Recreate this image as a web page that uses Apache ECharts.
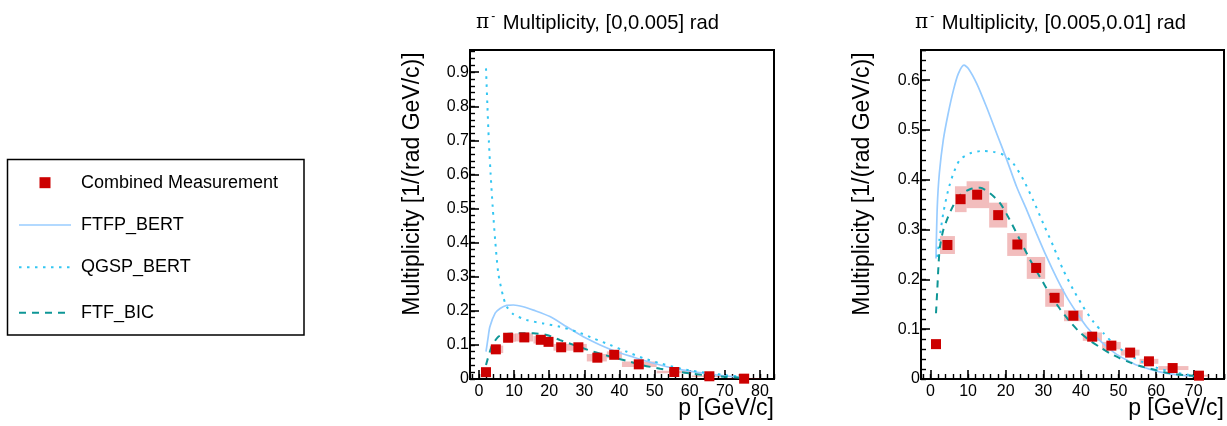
<!DOCTYPE html>
<html><head><meta charset="utf-8">
<script src="https://cdn.jsdelivr.net/npm/echarts@6/dist/echarts.min.js"></script>
<style>html,body{margin:0;padding:0;background:#fff}#c{width:1227px;height:426px}</style>
</head><body><div id="c"></div>
<script>
// ---------- data: left panel, [0,0.005] rad ----------
const L_dataP    = [2.0, 4.8, 8.3, 12.9, 17.6, 19.8, 23.4, 28.3, 33.7, 38.5, 45.5, 55.6, 65.6, 75.5];
const L_dataM    = [0.020, 0.087, 0.121, 0.122, 0.115, 0.109, 0.093, 0.093, 0.0625, 0.071, 0.043, 0.0205, 0.008, 0.001];
const L_binLow   = [1.0, 3.1, 6.8, 10.3, 15.5, 18.8, 21.2, 25.9, 30.7, 36.4, 40.7, 50.6, 60.6, 70.7];
const L_binHigh  = [3.0, 6.9, 10.4, 15.4, 18.8, 21.1, 25.9, 30.7, 36.4, 40.7, 50.6, 60.6, 70.7, 80.3];
const L_sysErr   = [0.002, 0.011, 0.012, 0.012, 0.011, 0.011, 0.010, 0.010, 0.011, 0.010, 0.008, 0.004, 0.002, 0.001];

const L_ftfpP = [2.0, 2.56, 3.1, 4.6, 6.0, 7.9, 9.8, 12.6, 15.5, 20.2, 25.0, 29.7, 34.5, 39.2, 44.0, 48.7, 53.5, 58.2, 63.0, 67.7, 72.5, 76.3];
const L_ftfpM = [0.080, 0.119, 0.153, 0.193, 0.207, 0.216, 0.217, 0.212, 0.202, 0.183, 0.153, 0.124, 0.100, 0.080, 0.064, 0.049, 0.036, 0.026, 0.0185, 0.0117, 0.0068, 0.0039];

const L_qgspP = [2.0, 2.4, 2.8, 3.3, 3.9, 4.6, 5.5, 6.9, 7.9, 9.8, 13.6, 18.3, 23.1, 27.8, 32.6, 37.3, 42.1, 46.8, 51.6, 56.3, 61.0, 65.8, 70.5, 75.3];
const L_qgspM = [0.911, 0.800, 0.700, 0.603, 0.505, 0.408, 0.310, 0.241, 0.212, 0.190, 0.173, 0.163, 0.153, 0.139, 0.119, 0.100, 0.080, 0.061, 0.046, 0.033, 0.0235, 0.0167, 0.0108, 0.0068];

const L_ftfbP = [2.0, 3.6, 5.5, 7.9, 11.7, 15.5, 19.3, 23.1, 27.8, 32.6, 37.3, 42.1, 46.8, 51.6, 56.3, 61.0, 65.8, 70.5, 74.3];
const L_ftfbM = [0.041, 0.095, 0.124, 0.132, 0.134, 0.134, 0.129, 0.114, 0.097, 0.080, 0.066, 0.053, 0.040, 0.030, 0.022, 0.015, 0.0095, 0.006, 0.004];

// ---------- data: right panel, [0.005,0.01] rad ----------
const R_dataP    = [1.46, 4.5, 8.0, 12.4, 18.0, 23.1, 28.1, 33.0, 38.0, 43.0, 48.1, 53.1, 58.1, 64.4, 71.4];
const R_dataM    = [0.070, 0.269, 0.361, 0.370, 0.329, 0.270, 0.223, 0.163, 0.127, 0.085, 0.067, 0.053, 0.0355, 0.022, 0.0067];
const R_binLow   = [0.8, 2.5, 6.5, 9.6, 15.6, 20.4, 25.6, 30.5, 35.5, 40.5, 45.6, 50.6, 55.6, 60.6, 68.6];
const R_binHigh  = [2.1, 6.5, 9.6, 15.6, 20.4, 25.6, 30.5, 35.5, 40.5, 45.6, 50.6, 55.6, 60.6, 68.6, 74.0];
const R_sysErr   = [0.002, 0.018, 0.026, 0.027, 0.025, 0.023, 0.022, 0.018, 0.011, 0.0085, 0.0075, 0.006, 0.005, 0.004, 0.002];

const R_ftfpP = [1.46, 1.8, 2.35, 3.4, 4.7, 6.1, 7.4, 8.9, 10.1, 12.3, 14.9, 17.6, 20.3, 22.9, 25.6, 28.2, 30.9, 33.6, 36.2, 38.9, 41.5, 44.2, 46.9, 49.5, 52.2, 54.8, 58.4, 62.8, 67.2, 70.8];
const R_ftfpM = [0.242, 0.346, 0.413, 0.480, 0.533, 0.580, 0.613, 0.630, 0.623, 0.593, 0.546, 0.493, 0.440, 0.386, 0.339, 0.292, 0.245, 0.202, 0.165, 0.133, 0.105, 0.083, 0.065, 0.0495, 0.038, 0.028, 0.0194, 0.0114, 0.0074, 0.0047];

const R_qgspP = [1.8, 2.35, 3.4, 4.7, 6.1, 7.8, 10.5, 14.0, 16.7, 19.4, 22.0, 24.7, 27.3, 30.0, 32.7, 35.3, 38.0, 40.6, 43.3, 46.0, 48.6, 51.3, 53.9, 56.6, 60.2, 64.6, 69.0, 70.8];
const R_qgspM = [0.245, 0.279, 0.333, 0.379, 0.413, 0.440, 0.453, 0.458, 0.456, 0.450, 0.433, 0.400, 0.359, 0.312, 0.266, 0.219, 0.179, 0.145, 0.115, 0.092, 0.0716, 0.056, 0.0435, 0.0335, 0.0227, 0.0134, 0.008, 0.006];

const R_ftfbP = [1.46, 1.8, 2.1, 2.5, 3.4, 4.7, 6.1, 7.8, 10.5, 13.2, 15.8, 18.5, 21.1, 23.8, 26.5, 29.1, 31.8, 34.4, 37.1, 39.8, 42.4, 45.1, 47.7, 50.4, 53.0, 55.7, 58.4, 62.8, 67.2, 70.8];
const R_ftfbM = [0.132, 0.179, 0.225, 0.265, 0.299, 0.326, 0.349, 0.369, 0.381, 0.384, 0.373, 0.353, 0.319, 0.279, 0.239, 0.205, 0.170, 0.141, 0.115, 0.093, 0.077, 0.0636, 0.0516, 0.0415, 0.0335, 0.026, 0.0207, 0.0127, 0.008, 0.006];

// ---------- text ----------
const titles = ['[0,0.005] rad', '[0.005,0.01] rad'];
const yTitle = 'Multiplicity [1/(rad GeV/c)]';
const xTitle = 'p [GeV/c]';
const legendNames = ['Combined Measurement', 'FTFP_BERT', 'QGSP_BERT', 'FTF_BIC'];

// ---------- styles ----------
const FONT = '"Liberation Sans", Arial, Helvetica, sans-serif';
const C_DATA = '#cc0000', C_BOX = 'rgba(204,0,0,0.26)';
const C_FTFP = '#99ccff', C_QGSP = '#33c6f2', C_FTFB = '#0e9696';
const DASH_Q = [2.5, 5.5], DASH_F = [7, 6];

const zip = (a, b) => a.map((v, i) => [v, b[i]]);
const boxes = (p, m, lo, hi, e) => p.map((v, i) => [v, m[i], lo[i], hi[i], e[i]]);

const panels = [
  {grid: {left: 470, top: 50, width: 304, height: 329}, xmin: -2.56, xmax: 84.0, ymax: 0.965,
   d: [L_dataP, L_dataM, L_binLow, L_binHigh, L_sysErr], ftfp: [L_ftfpP, L_ftfpM], qgsp: [L_qgspP, L_qgspM], ftfb: [L_ftfbP, L_ftfbM]},
  {grid: {left: 921, top: 50, width: 303, height: 329}, xmin: -2.53, xmax: 78.06, ymax: 0.6605,
   d: [R_dataP, R_dataM, R_binLow, R_binHigh, R_sysErr], ftfp: [R_ftfpP, R_ftfpM], qgsp: [R_qgspP, R_qgspM], ftfb: [R_ftfbP, R_ftfbM]}
];

const grid = [], xAxis = [], yAxis = [], series = [];
panels.forEach((pn, gi) => {
  grid.push(Object.assign({show: true, borderColor: '#000', borderWidth: 2, backgroundColor: 'transparent'}, pn.grid));
  const tick = {inside: true, length: 9, lineStyle: {color: '#000', width: 1.6}};
  const mtick = {inside: true, length: 5, lineStyle: {color: '#000', width: 1.4}};
  const lab = {fontSize: 16, color: '#000', fontFamily: FONT};
  const noLine = {show: false, onZero: false};
  xAxis.push({gridIndex: gi, type: 'value', min: pn.xmin, max: pn.xmax, splitNumber: 9, position: 'bottom',
    axisLine: noLine, axisTick: tick, splitLine: {show: false},
    axisLabel: Object.assign({margin: 5, showMinLabel: false, showMaxLabel: false}, lab)});
  xAxis.push({gridIndex: gi, type: 'value', min: pn.xmin, max: pn.xmax, splitNumber: Math.round((pn.xmax - pn.xmin) / 2), position: 'bottom',
    axisLine: noLine, axisTick: mtick, splitLine: {show: false}, axisLabel: {show: false}});
  yAxis.push({gridIndex: gi, type: 'value', min: 0, max: pn.ymax, interval: 0.1, position: 'left',
    axisLine: noLine, axisTick: tick, splitLine: {show: false},
    axisLabel: Object.assign({margin: 1, showMaxLabel: false, formatter: v => String(+v.toFixed(2))}, lab)});
  yAxis.push({gridIndex: gi, type: 'value', min: 0, max: pn.ymax, interval: 0.02, position: 'left',
    axisLine: noLine, axisTick: mtick, splitLine: {show: false}, axisLabel: {show: false}});
  const xi = gi * 2, yi = gi * 2;
  series.push({type: 'custom', name: legendNames[0] + ' sys', xAxisIndex: xi, yAxisIndex: yi, z: 1, silent: true,
    data: boxes(...pn.d), encode: {x: [0, 2, 3], y: 1},
    renderItem: (params, api) => {
      const p1 = api.coord([api.value(2), api.value(1) + api.value(4)]);
      const p2 = api.coord([api.value(3), api.value(1) - api.value(4)]);
      const cs = params.coordSys;
      return {type: 'rect', shape: echarts.graphic.clipRectByRect({x: p1[0], y: p1[1], width: p2[0] - p1[0], height: p2[1] - p1[1]},
        {x: cs.x, y: cs.y, width: cs.width, height: cs.height}), style: {fill: C_BOX}};
    }});
  const lineS = (name, arr, color, width, dash) => ({type: 'line', name, xAxisIndex: xi, yAxisIndex: yi, z: 2, data: zip(arr[0], arr[1]),
    symbol: 'none', smooth: 0.25, silent: true, lineStyle: {color, width, type: dash || 'solid'}});
  series.push(lineS(legendNames[1], pn.ftfp, C_FTFP, 1.7));
  series.push(lineS(legendNames[2], pn.qgsp, C_QGSP, 2, DASH_Q));
  series.push(lineS(legendNames[3], pn.ftfb, C_FTFB, 2, DASH_F));
  series.push({type: 'scatter', name: legendNames[0], xAxisIndex: xi, yAxisIndex: yi, z: 3, data: zip(pn.d[0], pn.d[1]),
    symbol: 'rect', symbolSize: 10, itemStyle: {color: C_DATA, opacity: 1}, silent: true});
});

const titleRich = {pi: {fontFamily: '"DejaVu Serif", "Liberation Serif", serif', fontSize: 20, color: '#000'},
  sup: {fontSize: 12, color: '#000', padding: [0, 2, 12, 2], fontFamily: FONT}};
const title = [
  {text: '{pi|π}{sup|-} Multiplicity, ' + titles[0], left: 476, top: 11, padding: 0,
   textStyle: {fontSize: 20.2, fontWeight: 'normal', color: '#000', fontFamily: FONT, rich: titleRich}},
  {text: '{pi|π}{sup|-} Multiplicity, ' + titles[1], left: 915, top: 11, padding: 0,
   textStyle: {fontSize: 20.2, fontWeight: 'normal', color: '#000', fontFamily: FONT, rich: titleRich}}
];

const txt = (x, y, text, size, align, rot) => ({type: 'text', x, y, rotation: rot || 0, silent: true,
  style: {text, fontSize: size, fontFamily: FONT, fill: '#000', align: align || 'left', verticalAlign: 'middle'}});
const legY = [182.7, 225, 267.3, 312.7];
const graphic = [
  txt(413, 184, yTitle, 23, 'center', Math.PI / 2),
  txt(863, 184, yTitle, 23, 'center', Math.PI / 2),
  txt(774, 409, xTitle, 23, 'right'),
  txt(1224, 409, xTitle, 23, 'right'),
  {type: 'rect', silent: true, shape: {x: 7.5, y: 159.5, width: 296.5, height: 175.5}, style: {fill: '#fff', stroke: '#000', lineWidth: 1.5}},
  {type: 'rect', silent: true, shape: {x: 39.5, y: legY[0] - 5.5, width: 11, height: 11}, style: {fill: C_DATA}},
  {type: 'line', silent: true, shape: {x1: 19, y1: legY[1], x2: 71, y2: legY[1]}, style: {stroke: C_FTFP, lineWidth: 1.7}},
  {type: 'line', silent: true, shape: {x1: 19, y1: legY[2], x2: 71, y2: legY[2]}, style: {stroke: C_QGSP, lineWidth: 2, lineDash: DASH_Q}},
  {type: 'line', silent: true, shape: {x1: 19, y1: legY[3], x2: 71, y2: legY[3]}, style: {stroke: C_FTFB, lineWidth: 2, lineDash: DASH_F}},
  txt(81, legY[0], legendNames[0], 18),
  txt(81, legY[1], legendNames[1], 18),
  txt(81, legY[2], legendNames[2], 18),
  txt(81, legY[3], legendNames[3], 18)
];

const chart = echarts.init(document.getElementById('c'), null, {renderer: 'canvas'});
chart.setOption({animation: false, backgroundColor: '#fff', title, grid, xAxis, yAxis, series, graphic});
</script></body></html>
